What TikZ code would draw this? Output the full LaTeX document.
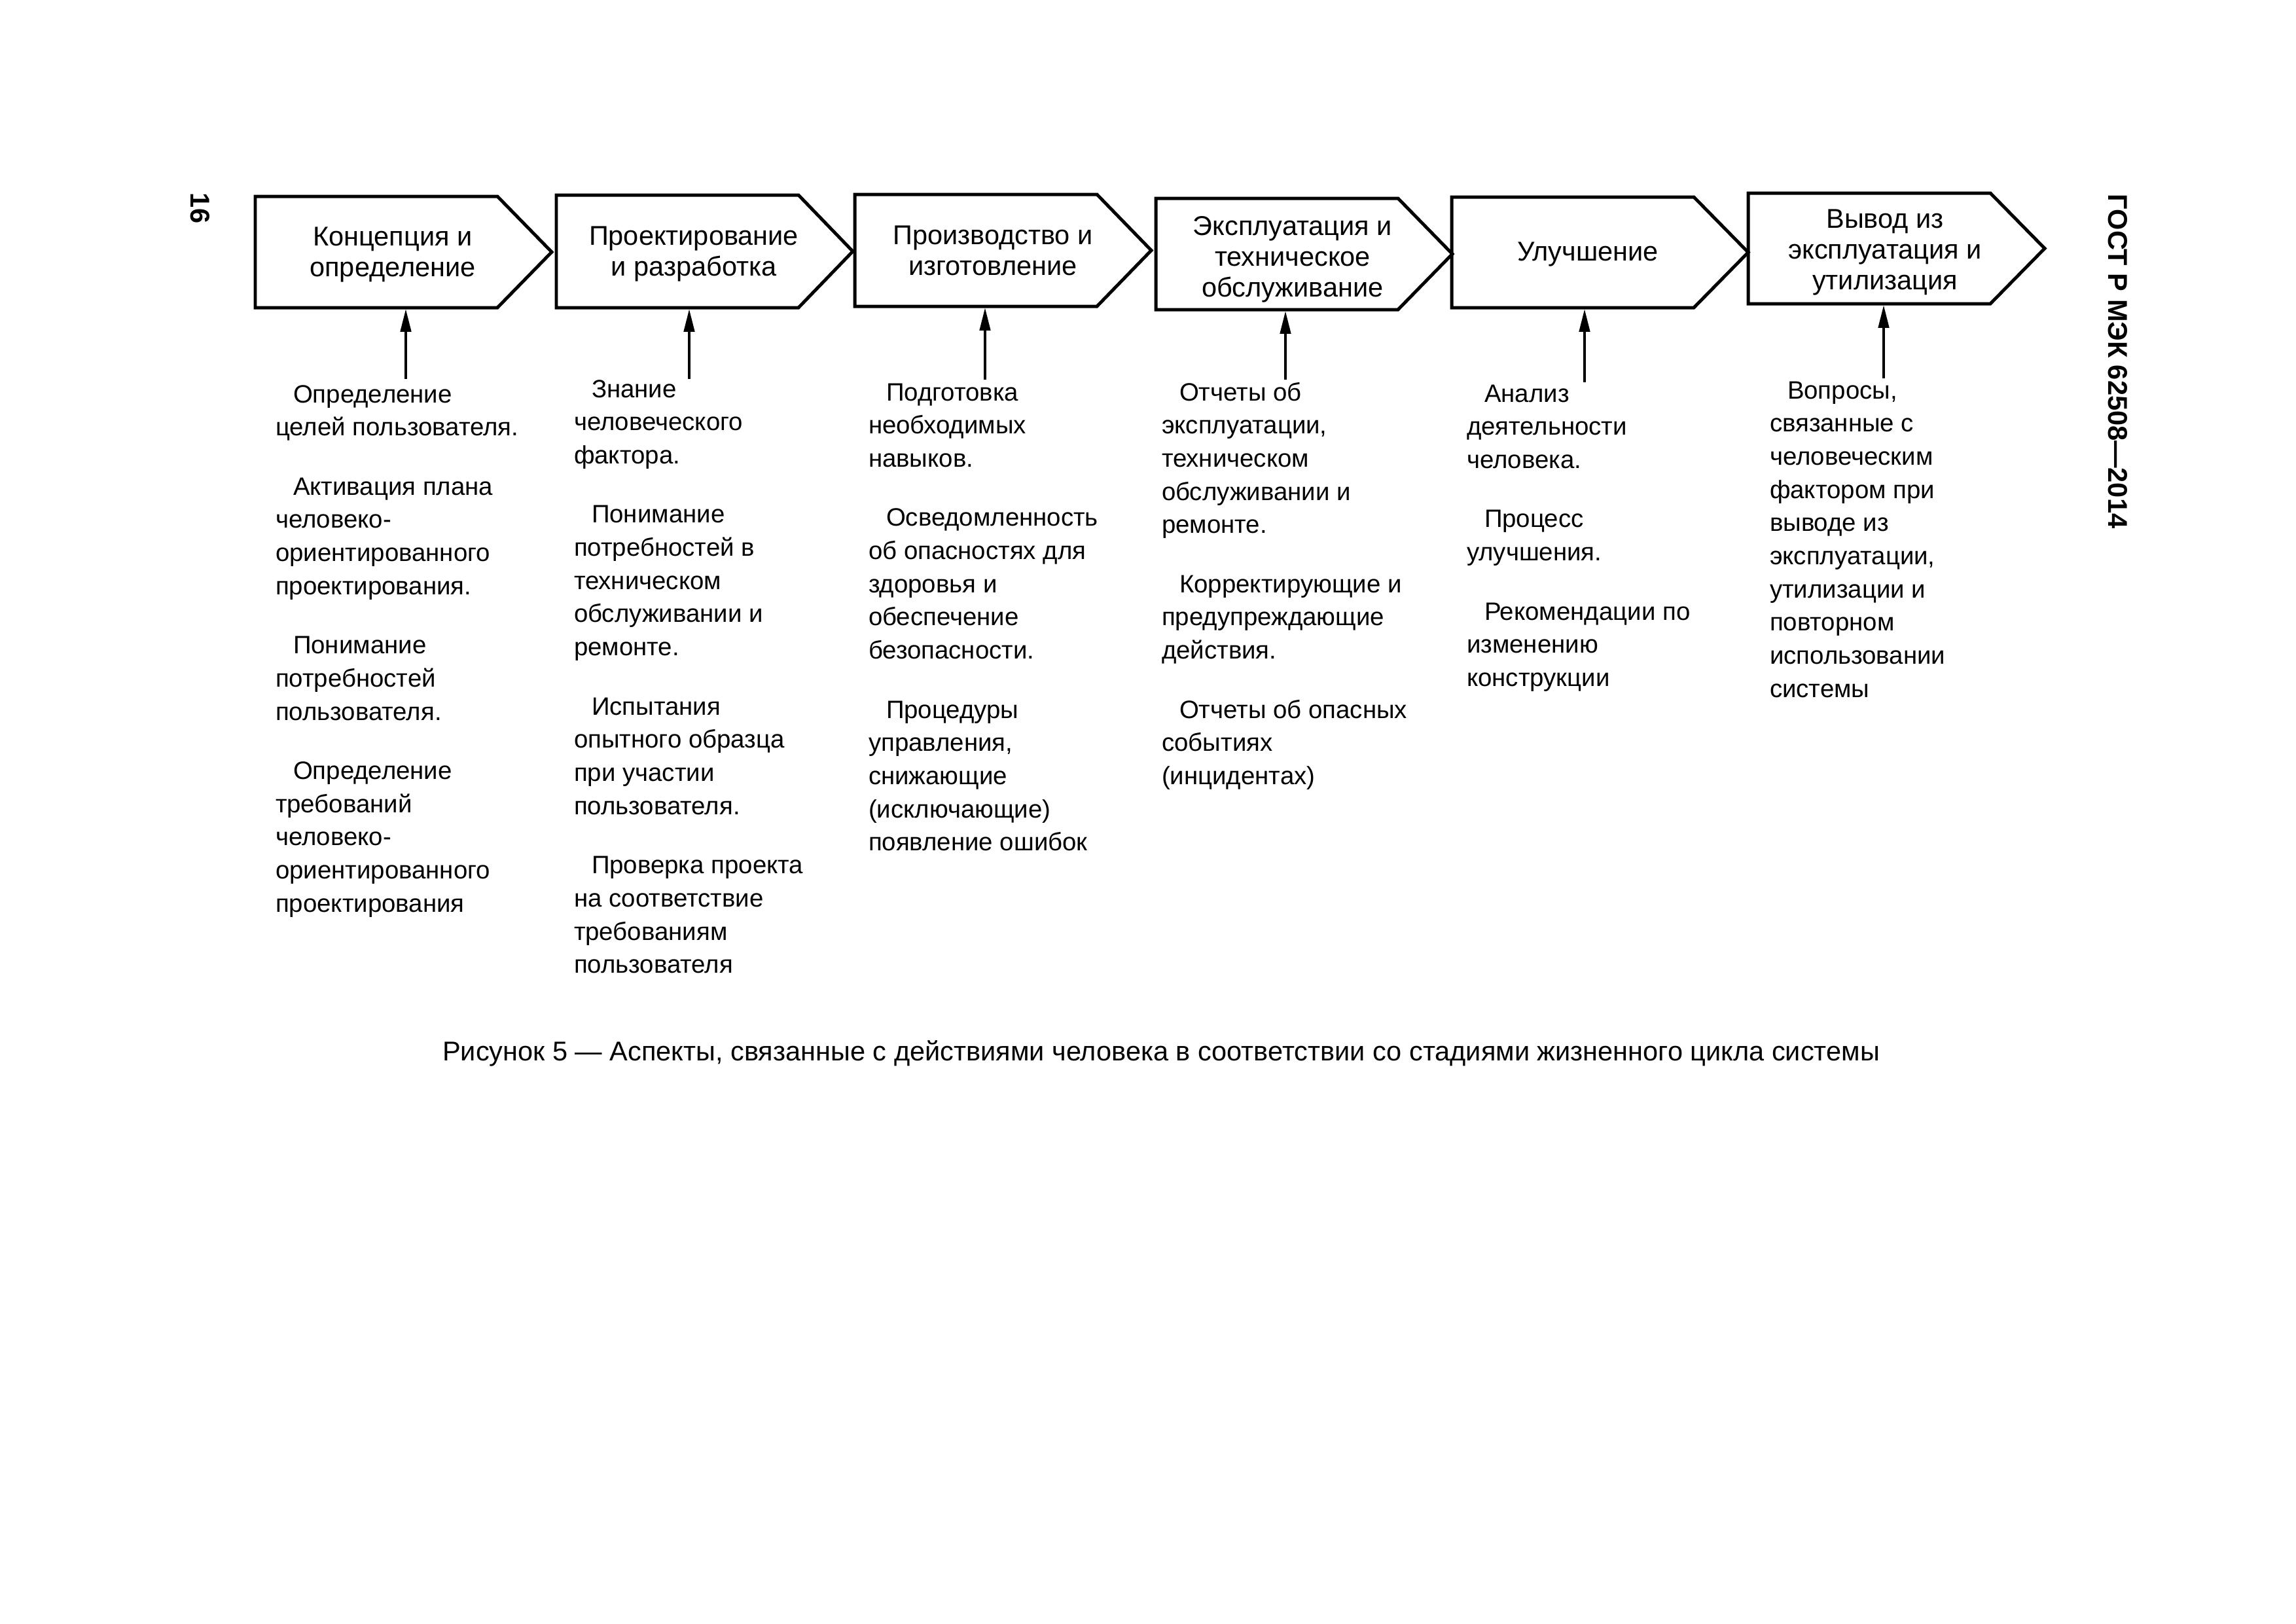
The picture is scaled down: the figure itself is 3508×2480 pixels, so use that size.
\documentclass[tikz,border=0pt]{standalone}
\usepackage{fontspec}
\setmainfont{Liberation Sans}
\usetikzlibrary{arrows.meta}
\newdimen\px \px=0.24089pt
\newdimen\ind \ind=27\px
\newcommand\colfont{\fontsize{9.25pt}{12.21pt}\selectfont}
\newcommand\boxfont{\fontsize{10pt}{11.44pt}\selectfont}
\newcommand\coltext[1]{\begin{minipage}[t]{440\px}\colfont\raggedright\setlength\parindent{0pt}\setlength\parskip{39.8\px}#1\end{minipage}}
\newcommand\boxtext[1]{\begin{minipage}[t]{420\px}\boxfont\centering #1\end{minipage}}
\newcommand\pp{\par\hspace*{\ind}}
\newcommand\chevronpath[3]{\draw[chev] (#1,#2) -- (#1+370,#2) -- (#1+453,{(#2+#3)/2}) -- (#1+370,#3) -- (#1,#3) -- cycle;}
\tikzset{
  chev/.style={draw, line width=1.2pt, line join=miter},
  arr/.style={line width=0.96pt, -{Triangle[length=8.4pt,width=3.9pt]}},
  lbl/.style={inner sep=0pt, outer sep=0pt, anchor=base},
  col/.style={inner sep=0pt, outer sep=0pt, anchor=base west},
  side/.style={inner sep=0pt, outer sep=0pt, rotate=-90, font=\bfseries\fontsize{10pt}{12pt}\selectfont},
}
\begin{document}
\begin{tikzpicture}[x=0.24089pt, y=-0.24089pt]
\useasboundingbox (0,0) rectangle (3508,2480);
\fill[white] (0,0) rectangle (3508,2480);

% chevrons
\chevronpath{390}{300}{470}
\chevronpath{850}{298}{470}
\chevronpath{1306}{297}{468}
\chevronpath{1766}{303}{473}
\chevronpath{2218}{301}{470}
\chevronpath{2671}{295}{464}

% box texts
\node[lbl] (t1) at (600,375) {\boxtext{Концепция и\\определение}};
\node[lbl] (t2) at (1060,374) {\boxtext{Проектирование\\и разработка}};
\node[lbl] (t3) at (1517,373) {\boxtext{Производство и\\изготовление}};
\node[lbl] (t4) at (1975,359) {\boxtext{Эксплуатация и\\техническое\\обслуживание}};
\node[lbl] (t5) at (2426,398) {\boxtext{Улучшение}};
\node[lbl] (t6) at (2880,348) {\boxtext{Вывод из\\эксплуатация и\\утилизация}};

% columns
\node[col] (c1) at (421,615) {\coltext{\hspace*{\ind}Определение\\целей пользователя.
\pp Активация плана\\человеко-\\ориентированного\\проектирования.
\pp Понимание\\потребностей\\пользователя.
\pp Определение\\требований\\человеко-\\ориентированного\\проектирования}};

\node[col] (c2) at (877,607) {\coltext{\hspace*{\ind}Знание\\человеческого\\фактора.
\pp Понимание\\потребностей в\\техническом\\обслуживании и\\ремонте.
\pp Испытания\\опытного образца\\при участии\\пользователя.
\pp Проверка проекта\\на соответствие\\требованиям\\пользователя}};

\node[col] (c3) at (1327,612) {\coltext{\hspace*{\ind}Подготовка\\необходимых\\навыков.
\pp Осведомленность\\об опасностях для\\здоровья и\\обеспечение\\безопасности.
\pp Процедуры\\управления,\\снижающие\\(исключающие)\\появление ошибок}};

\node[col] (c4) at (1775,612) {\coltext{\hspace*{\ind}Отчеты об\\эксплуатации,\\техническом\\обслуживании и\\ремонте.
\pp Корректирующие и\\предупреждающие\\действия.
\pp Отчеты об опасных\\событиях\\(инцидентах)}};

\node[col] (c5) at (2241,614) {\coltext{\hspace*{\ind}Анализ\\деятельности\\человека.
\pp Процесс\\улучшения.
\pp Рекомендации по\\изменению\\конструкции}};

\node[col] (c6) at (2704,609) {\coltext{\hspace*{\ind}Вопросы,\\связанные с\\человеческим\\фактором при\\выводе из\\эксплуатации,\\утилизации и\\повторном\\использовании\\системы}};

% arrows
\coordinate (s1) at (620,579);  \coordinate (h1) at (620,472);
\coordinate (s2) at (1053,579); \coordinate (h2) at (1053,472);
\coordinate (s3) at (1505,580); \coordinate (h3) at (1505,470);
\coordinate (s4) at (1964,580); \coordinate (h4) at (1964,475);
\coordinate (s5) at (2421,584); \coordinate (h5) at (2421,472);
\coordinate (s6) at (2878,578); \coordinate (h6) at (2878,466);
\foreach \i in {1,...,6} \draw[arr] (s\i) -- (h\i);

% caption and margins
\node[lbl, font=\fontsize{10pt}{12pt}\selectfont] (cap) at (1774,1620) {Рисунок 5 — Аспекты, связанные с действиями человека в соответствии со стадиями жизненного цикла системы};
\node[side] (pg) at (306,318) {16};
\node[side] (gost) at (3236,552) {ГОСТ Р МЭК 62508—2014};
\end{tikzpicture}
\end{document}
